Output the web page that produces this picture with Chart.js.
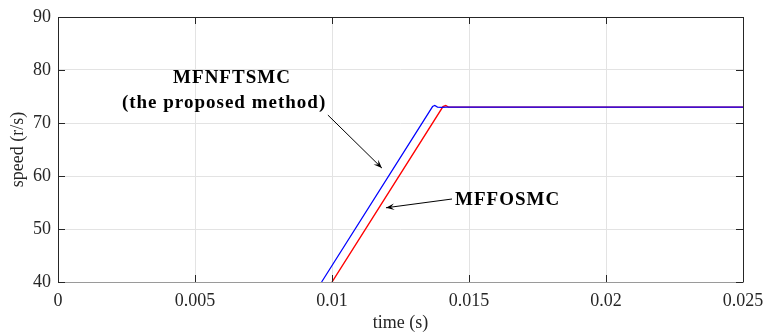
<!DOCTYPE html>
<html><head><meta charset="utf-8">
<script src="https://cdn.jsdelivr.net/npm/chart.js@4/dist/chart.umd.min.js"></script>
<style>html,body{margin:0;padding:0;background:#fff}#wrap{width:766px;height:332px}</style>
</head><body><div id="wrap"><canvas id="c" width="766" height="332"></canvas></div>
<script>
const xTickValues = [0, 0.005, 0.01, 0.015, 0.02, 0.025];
const xTickLabels = ["0", "0.005", "0.01", "0.015", "0.02", "0.025"];
const yTickValues = [40, 50, 60, 70, 80, 90];
const yTickLabels = ["40", "50", "60", "70", "80", "90"];

const mfnftsmcTime  = [0.00962, 0.01367, 0.01375, 0.01385, 0.0140, 0.0142, 0.025];
const mfnftsmcSpeed = [40, 73.1, 73.3, 73.0, 72.95, 73.0, 73.0];
const mffosmcTime   = [0.0100, 0.01405, 0.01415, 0.01425, 0.0145, 0.025];
const mffosmcSpeed  = [40, 73.1, 73.3, 73.0, 73.0, 73.0];

const labelMain = "MFNFTSMC";
const labelSub = "(the proposed method)";
const labelOther = "MFFOSMC";

function pts(xs, ys){ return xs.map((x,i)=>({x:x, y:ys[i]})); }

const annot = {
  id:'annot',
  afterDraw(chart){
    const {ctx, chartArea:a, scales:{x, y}} = chart;
    ctx.save();
    ctx.letterSpacing = '0px';
    // frame
    ctx.lineWidth = 1;
    ctx.strokeStyle = '#262626';
    ctx.beginPath();
    ctx.moveTo(Math.round(a.left)+0.5, Math.round(a.bottom)+0.5);
    ctx.lineTo(Math.round(a.left)+0.5, Math.round(a.top)+0.5);
    ctx.lineTo(Math.round(a.right)+0.5, Math.round(a.top)+0.5);
    ctx.lineTo(Math.round(a.right)+0.5, Math.round(a.bottom)+0.5);
    ctx.stroke();
    ctx.strokeStyle = '#9a9a9a';
    ctx.beginPath();
    ctx.moveTo(Math.round(a.left)+0.5, Math.round(a.bottom)+0.5);
    ctx.lineTo(Math.round(a.right)+0.5, Math.round(a.bottom)+0.5);
    ctx.stroke();
    // inside ticks
    ctx.strokeStyle = '#262626';
    ctx.beginPath();
    yTickValues.forEach(v=>{
      const py = Math.round(y.getPixelForValue(v))+0.5;
      ctx.moveTo(a.left, py); ctx.lineTo(a.left+7, py);
      ctx.moveTo(a.right, py); ctx.lineTo(a.right-7, py);
    });
    xTickValues.forEach(v=>{
      const px = Math.round(x.getPixelForValue(v))+0.5;
      ctx.moveTo(px, a.bottom); ctx.lineTo(px, a.bottom-7);
      ctx.moveTo(px, a.top); ctx.lineTo(px, a.top+7);
    });
    ctx.stroke();
    // texts
    ctx.fillStyle = '#000';
    ctx.letterSpacing = '1px';
    ctx.font = 'bold 19px "Liberation Serif", "Times New Roman", serif';
    ctx.textAlign = 'center';
    ctx.textBaseline = 'middle';
    ctx.fillText(labelMain, x.getPixelForValue(0.00635), y.getPixelForValue(78.5));
    ctx.fillText(labelSub, x.getPixelForValue(0.00606), y.getPixelForValue(73.8));
    ctx.textAlign = 'left';
    ctx.fillText(labelOther, x.getPixelForValue(0.01449), y.getPixelForValue(55.5));
    ctx.letterSpacing = '0px';
    // arrows
    function arrow(x1,y1,x2,y2){
      const X1=x.getPixelForValue(x1), Y1=y.getPixelForValue(y1);
      const X2=x.getPixelForValue(x2), Y2=y.getPixelForValue(y2);
      ctx.strokeStyle='#000'; ctx.lineWidth=1;
      ctx.beginPath(); ctx.moveTo(X1,Y1); ctx.lineTo(X2,Y2); ctx.stroke();
      const ang=Math.atan2(Y2-Y1,X2-X1), L=9, w=0.38;
      ctx.beginPath();
      ctx.moveTo(X2,Y2);
      ctx.lineTo(X2-L*Math.cos(ang-w), Y2-L*Math.sin(ang-w));
      ctx.lineTo(X2-L*0.55*Math.cos(ang), Y2-L*0.55*Math.sin(ang));
      ctx.lineTo(X2-L*Math.cos(ang+w), Y2-L*Math.sin(ang+w));
      ctx.closePath(); ctx.fillStyle='#000'; ctx.fill();
    }
    arrow(0.00985, 71.5, 0.01182, 61.5);
    arrow(0.01438, 55.66, 0.01197, 54.0);
    ctx.restore();
  }
};

const serif = '"Liberation Serif", "Times New Roman", serif';
const canvas = document.getElementById('c');
canvas.getContext('2d').letterSpacing = '1px';
new Chart(canvas, {
  type: 'scatter',
  data: { datasets: [
    { label: labelMain, data: pts(mfnftsmcTime, mfnftsmcSpeed), showLine: true, borderColor: '#0000ff', borderWidth: 1.2, pointRadius: 0, tension: 0 },
    { label: labelOther, data: pts(mffosmcTime, mffosmcSpeed), showLine: true, borderColor: '#ff0000', borderWidth: 1.4, pointRadius: 0, tension: 0 }
  ]},
  options: {
    responsive: false, animation: false,
    layout: { padding: { top: 17, right: 23, left: 0, bottom: 0 } },
    plugins: { legend: { display: false }, tooltip: { enabled: false } },
    scales: {
      x: {
        type: 'linear', min: 0, max: 0.025,
        afterBuildTicks: s => { s.ticks = xTickValues.map(v=>({value:v})); },
        afterFit: s => { s.height = 50; s.paddingLeft = 0; s.paddingRight = 0; },
        ticks: { callback: (v,i) => xTickLabels[i], color: '#262626', font: { family: serif, size: 18 }, padding: 8, maxRotation: 0 },
        grid: { color: '#e3e3e3', drawTicks: false, tickLength: 0 },
        border: { display: false },
        title: { display: true, text: 'time (s)', color: '#262626', font: { family: serif, size: 18, lineHeight: 1 }, padding: { top: 0, bottom: 0 } }
      },
      y: {
        type: 'linear', min: 40, max: 90,
        afterBuildTicks: s => { s.ticks = yTickValues.map(v=>({value:v})); },
        afterFit: s => { s.width = 58; s.paddingTop = 0; s.paddingBottom = 0; },
        ticks: { callback: (v,i) => yTickLabels[i], color: '#262626', font: { family: serif, size: 18 }, padding: 7 },
        grid: { color: '#e3e3e3', drawTicks: false, tickLength: 0 },
        border: { display: false },
        title: { display: true, text: 'speed (r/s)', color: '#262626', font: { family: serif, size: 18, lineHeight: 1 }, padding: { top: 9, bottom: 0 } }
      }
    }
  },
  plugins: [annot]
});
</script>
</body></html>
